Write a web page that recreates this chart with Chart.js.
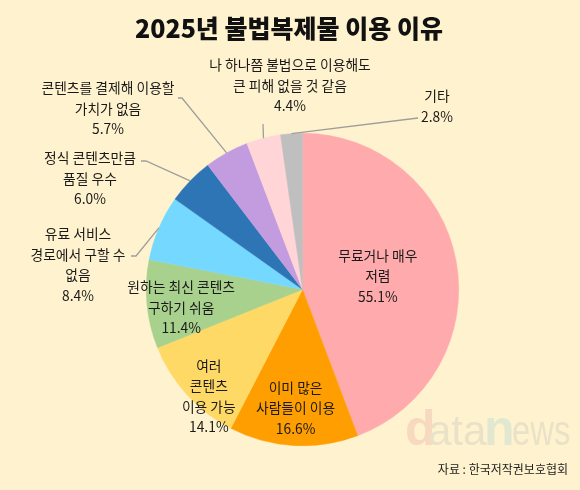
<!DOCTYPE html>
<html lang="ko">
<head>
<meta charset="utf-8">
<script src="https://cdn.jsdelivr.net/npm/chart.js@4.4.1/dist/chart.umd.min.js"></script>
<style>
  html, body { margin: 0; padding: 0; background: #FFF2CE; }
  #wrap { width: 580px; height: 490px; position: relative; }
</style>
</head>
<body>
<div id="wrap"><canvas id="myChart"></canvas></div>
<script>
// reasons for using illegal copies, clockwise from the top
var reasons = [
  ["무료거나 매우", "저렴"],
  ["이미 많은", "사람들이 이용"],
  ["여러", "콘텐츠", "이용 가능"],
  ["원하는 최신 콘텐츠", "구하기 쉬움"],
  ["유료 서비스", "경로에서 구할 수", "없음"],
  ["정식 콘텐츠만큼", "품질 우수"],
  ["콘텐츠를 결제해 이용할", "가치가 없음"],
  ["나 하나쯤 불법으로 이용해도", "큰 피해 없을 것 같음"],
  ["기타"]
];
// percent of respondents (multiple answers)
var shares = [55.1, 16.6, 14.1, 11.4, 8.4, 6.0, 5.7, 4.4, 2.8];
var sliceColors = ["#FFABAD", "#FF9E00", "#FFD966", "#A9D18E", "#75D9FF", "#2E75B6", "#C39BDF", "#FFD5D8", "#BFBFBF"];

var titleText = "2025년 불법복제물 이용 이유";
var sourceText = "자료 : 한국저작권보호협회";

// where each label goes: inside ones by radius fraction / angle nudge,
// outside ones by text centre and the start of their leader line
var labelSpots = [
  { r: 0.49, da: 0 },
  { r: 0.76, da: 0 },
  { r: 0.91, da: -6.5 },
  { r: 0.785, da: -3 },
  { x: 78, y: 234, line: [[131, 256], [136, 256]] },
  { x: 90, y: 158, line: [[141, 161], [146, 161]] },
  { x: 108, y: 88, line: [[178, 98], [182, 98]] },
  { x: 290, y: 65, line: [[263, 124]] },
  { x: 437, y: 96, line: [[418, 118]] }
];

var FONT = '"Noto Sans CJK KR", "Noto Sans", sans-serif';
var LINE_H = 20.5;

function drawWatermark(ctx) {
  ctx.save();
  ctx.textBaseline = "alphabetic";
  ctx.textAlign = "left";
  ctx.font = "bold 50px Liberation Sans, Arial, sans-serif";
  ctx.fillStyle = "#F7D9C0";
  ctx.fillText("d", 405, 445);
  ctx.font = "42px Liberation Sans, Arial, sans-serif";
  ctx.fillStyle = "#EAE1C9";
  ctx.fillText("ata", 428, 445);
  ctx.font = "bold 50px Liberation Sans, Arial, sans-serif";
  ctx.fillStyle = "#E2E8D0";
  ctx.fillText("n", 484, 445);
  ctx.translate(512, 0);
  ctx.scale(0.78, 1);
  ctx.font = "42px Liberation Sans, Arial, sans-serif";
  ctx.fillStyle = "#EAE1C9";
  ctx.fillText("ews", 0, 445);
  ctx.restore();
}

var labelPlugin = {
  id: 'sliceLabels',
  afterDraw: function(chart) {
    var ctx = chart.ctx;
    var arcs = chart.getDatasetMeta(0).data;
    ctx.save();

    // title
    ctx.fillStyle = "#111";
    ctx.textAlign = "center";
    ctx.textBaseline = "middle";
    ctx.font = "900 25px " + FONT;
    ctx.fillText(titleText, 289, 28);

    drawWatermark(ctx);

    // source
    ctx.fillStyle = "#222";
    ctx.textAlign = "right";
    ctx.textBaseline = "middle";
    ctx.font = "12px " + FONT;
    ctx.fillText(sourceText, 568, 469);

    // slice labels
    ctx.font = "13.8px " + FONT;
    ctx.textAlign = "center";
    for (var i = 0; i < arcs.length; i++) {
      var a = arcs[i];
      var spot = labelSpots[i];
      var lines = reasons[i].concat([shares[i].toFixed(1) + "%"]);
      var mid = (a.startAngle + a.endAngle) / 2;
      var cx, cy;
      if (spot.r !== undefined) {
        var ang = mid + spot.da * Math.PI / 180;
        cx = a.x + Math.cos(ang) * a.outerRadius * spot.r;
        cy = a.y + Math.sin(ang) * a.outerRadius * spot.r;
        cy = cy - (lines.length - 1) * LINE_H / 2;
      } else {
        cx = spot.x;
        cy = spot.y;
        // leader line to the edge of the slice
        ctx.strokeStyle = "#9E9E9E";
        ctx.lineWidth = 1.3;
        ctx.beginPath();
        ctx.moveTo(spot.line[0][0], spot.line[0][1]);
        for (var k = 1; k < spot.line.length; k++) ctx.lineTo(spot.line[k][0], spot.line[k][1]);
        ctx.lineTo(a.x + Math.cos(mid) * a.outerRadius, a.y + Math.sin(mid) * a.outerRadius);
        ctx.stroke();
      }
      ctx.fillStyle = "#1A1A1A";
      for (var j = 0; j < lines.length; j++) {
        ctx.fillText(lines[j], cx, cy + j * LINE_H);
      }
    }
    ctx.restore();
  }
};

var ctx = document.getElementById("myChart");
var myChart = new Chart(ctx, {
  type: 'pie',
  data: {
    labels: reasons.map(function(r) { return r.join(" "); }),
    datasets: [{
      data: shares,
      backgroundColor: sliceColors,
      borderColor: sliceColors,
      borderWidth: 0.5
    }]
  },
  options: {
    responsive: true,
    maintainAspectRatio: false,
    animation: false,
    layout: { padding: { left: 146, right: 121, top: 133, bottom: 44 } },
    plugins: {
      legend: { display: false },
      tooltip: { enabled: false }
    }
  },
  plugins: [labelPlugin]
});
</script>
</body>
</html>
